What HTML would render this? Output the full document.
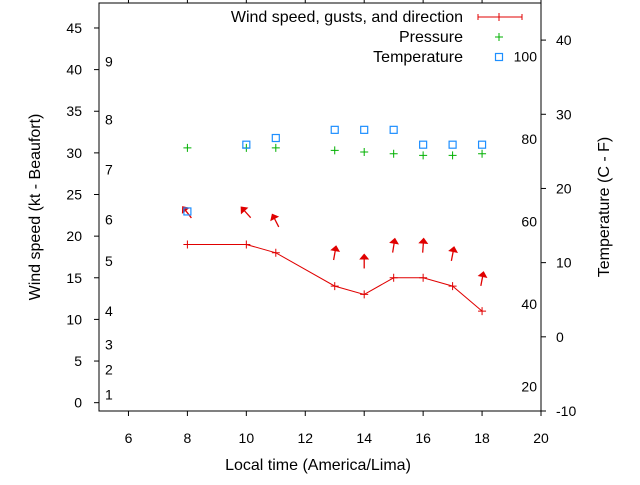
<!DOCTYPE html>
<html><head><meta charset="utf-8"><style>
body{margin:0;background:#fff}
svg{font-family:"Liberation Sans",sans-serif;font-size:14px}
</style></head><body>
<svg id="c" width="640" height="480" xmlns="http://www.w3.org/2000/svg"></svg>
<script>
const hours=[8,10,11,13,14,15,16,17,18];
const windSpeed=[19,19,18,14,13,15,15,14,11];
const gustSpeed=[22.8,22.8,21.8,17.9,16.9,18.8,18.8,17.8,14.8];
const arrowBearing=[322,318,333,10,0,9,4,11,11];
const pressure=[30.6,30.6,30.6,30.3,30.1,29.9,29.7,29.7,29.9];
const tempHours=[8,10,11,13,14,15,16,17,18];
const tempC=[16.9,25.9,26.8,27.9,27.9,27.9,25.9,25.9,25.9];
const xTicks=[6,8,10,12,14,16,18,20];
const yTicks=[0,5,10,15,20,25,30,35,40,45];
const y2Ticks=[-10,0,10,20,30,40];
const beaufort=[[1,1],[2,4],[3,7],[4,11],[5,17],[6,22],[7,28],[8,34],[9,41]];
const fTicks=[20,40,60,80,100];

const L=99,R=541,T=3,B=411;
const X=v=>L+(v-5)*(R-L)/15;
const Y=v=>B-(v+1)*(B-T)/49;
const Y2=v=>B-(v+10)*(B-T)/55;
const svg=document.getElementById('c');
const NS='http://www.w3.org/2000/svg';
function mk(tag,attrs,name,parent){const e=document.createElementNS(NS,tag);for(const k in attrs)e.setAttribute(k,attrs[k]);


(parent||svg).appendChild(e);return e;}
function txt(x,y,s,anchor,name,extra){const e=mk('text',Object.assign({x:x,y:y,'text-anchor':anchor||'middle',fill:'#000'},extra||{}),name);e.textContent=s;return e;}

mk('rect',{x:L,y:T,width:R-L,height:B-T,fill:'none',stroke:'#000','stroke-width':1},'plot-frame');
xTicks.forEach(v=>{mk('line',{x1:X(v),x2:X(v),y1:B,y2:B+5,stroke:'#000'},'x-tick');mk('line',{x1:X(v),x2:X(v),y1:T,y2:T-4,stroke:'#000'},'x-tick-top');txt(X(v),B+32,String(v),'middle','x-tick-label');});
yTicks.forEach(v=>{mk('line',{x1:L,x2:L-5,y1:Y(v),y2:Y(v),stroke:'#000'},'y-tick');txt(L-17,Y(v)+5,String(v),'end','y-tick-label');});
y2Ticks.forEach(v=>{mk('line',{x1:R,x2:R+5,y1:Y2(v),y2:Y2(v),stroke:'#000'},'y2-tick');txt(R+15,Y2(v)+5,String(v),'start','y2-tick-label');});
beaufort.forEach(b=>txt(105,Y(b[1])+5,String(b[0]),'start','beaufort-label'));
fTicks.forEach(f=>txt(537,Y2((f-32)*5/9)+5,String(f),'end','fahrenheit-label'));
const big={'font-size':'16px'};
txt(318,470,'Local time (America/Lima)','middle','x-axis-title',big);
txt(0,0,'Wind speed (kt - Beaufort)','middle','y-axis-title',{transform:'translate(40,207) rotate(-90)','font-size':'16px'});
txt(0,0,'Temperature (C - F)','middle','y2-axis-title',{transform:'translate(609,207) rotate(-90)','font-size':'16px'});

mk('polyline',{points:hours.map((h,i)=>X(h)+','+Y(windSpeed[i])).join(' '),fill:'none',stroke:'#e00000','stroke-width':1},'wind-speed-line');
function plus(x,y,c,n){mk('path',{d:`M${x-4},${y}h8M${x},${y-4}v8`,stroke:c,'stroke-width':1},n);}
hours.forEach((h,i)=>plus(X(h),Y(windSpeed[i]),'#e00000','wind-point'));
hours.forEach((h,i)=>{const cx=X(h),cy=Y(gustSpeed[i]),a=arrowBearing[i]*Math.PI/180,dx=Math.sin(a),dy=-Math.cos(a),l=6.5;
const hx=cx+dx*l,hy=cy+dy*l,tx=cx-dx*l,ty=cy-dy*l;
mk('line',{x1:tx,y1:ty,x2:hx,y2:hy,stroke:'#e00000','stroke-width':1.3},'gust-arrow-shaft');
const px=-dy,py=dx;
mk('polygon',{points:`${hx+dx*2},${hy+dy*2} ${hx-dx*4+px*5},${hy-dy*4+py*5} ${hx-dx*4-px*5},${hy-dy*4-py*5}`,fill:'#e00000'},'gust-arrow-head');});
hours.forEach((h,i)=>plus(X(h),Y(pressure[i]),'#00b000','pressure-point'));
tempHours.forEach((h,i)=>mk('rect',{x:X(h)-3.5,y:Y2(tempC[i])-3.5,width:7,height:7,fill:'none',stroke:'#1e8fff','stroke-width':1.2},'temperature-point'));

txt(463,22,'Wind speed, gusts, and direction','end','legend-wind-label',big);
mk('path',{d:'M478,17h44M478,14v6M522,14v6',stroke:'#e00000'},'legend-wind-sample');
plus(499,17,'#e00000','legend-wind-marker');
txt(463,42,'Pressure','end','legend-pressure-label',big);
plus(499,37,'#00b000','legend-pressure-marker');
txt(463,62,'Temperature','end','legend-temperature-label',big);
mk('rect',{x:495.5,y:53.5,width:7,height:7,fill:'none',stroke:'#1e8fff','stroke-width':1.2},'legend-temperature-marker');
</script>
</body></html>
